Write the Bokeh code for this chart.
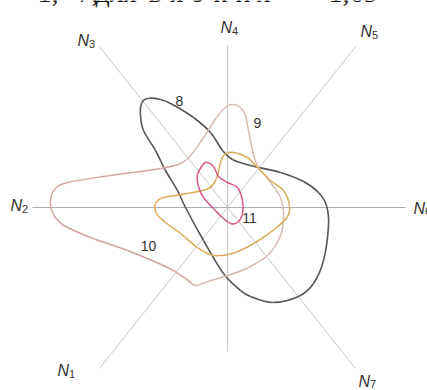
from bokeh.plotting import figure
from bokeh.models import Range1d
from bokeh.core.properties import value
from bokeh.embed import file_html
from bokeh.resources import INLINE

# Rays of the diagram (end points, centre at origin)
ray_x = [-128, -195, -129, 0, 129, 178, 128, 0]
ray_y = [-161, 0, 162, 162, 162, 0, -161, -144]

# Ray labels: left edge of the letter N and its vertical centre
label_x = [-170, -217, -150, -7, 133, 186, 131]
label_y = [-163, 2, 167, 180, 176, -0.5, -173.5]
label_sub = ["1", "2", "3", "4", "5", "6", "7"]

# Contour 8
c8_x = [-80, -67, -55, -34, -17, -5, 5, 23, 53, 76, 91, 99, 101, 96, 86, 71, 45,
        23, 13, -4, -24, -42, -50, -62, -72, -84, -87, -86]
c8_y = [109, 108, 103, 90, 75, 57, 48, 42, 35, 26, 15, 2, -18, -53, -76, -89, -95,
        -89, -83, -66, -33, 0, 17, 37, 57, 77, 92, 104]

# Contour 9 (upper arc) and contour 10 (left lobe) form one closed outline
c9_x = [-42, -24, -11, -1, 6, 13, 18, 21, 25, 30, 43, 53, 56, 53, 41, 21, 0, -20, -32]
c9_y = [47, 70, 90, 101, 103, 100, 92, 77, 57, 42, 25, 10, -8, -28, -47, -60, -68, -74, -78]
c10_x = [-42, -60, -100, -137, -165, -175, -177, -173, -160, -117, -67]
c10_y = [-71, -60, -43, -30, -17, -5, 7, 18, 25, 32, 39]

# Orange contour
co_x = [6, 20, 30, 43, 56, 62, 60, 48, 28, 8, -14, -30, -47, -62, -71, -72, -64,
        -40, -19, -11, -7, -3]
co_y = [55, 50, 40, 27, 17, 2, -9, -21, -35, -45, -48, -40, -26, -15, -6, 4, 10,
        14, 19, 29, 45, 53]

# Contour 11
c11_x = [-22, -14, -9, 0, 10, 15, 15, 10, 3, -5, -14, -24, -29, -30]
c11_y = [45, 41, 31, 25, 20, 7, -6, -15, -16, -10, -1, 10, 21, 33]

# Curve numbers
num_text = ["8", "9", "10", "11"]
num_x = [-48, 30, -79, 22]
num_y = [107, 85, -38, -10]

# Line of running text above the figure (spaced-out word set letter by letter)
top_words = ["=", "1,", "7,", "для", "в", "я", "з", "к", "и", "х", "=", "1,65", "="]
top_x = [-231, -190, -150, -132, -79, -57, -35, -14, 8, 29, 63, 101, 176]


def catmull_rom(xs, ys):
    """Bezier segments of a closed Catmull-Rom spline through the points."""
    n = len(xs)
    segs = []
    for i in range(n):
        p0 = (xs[i - 1], ys[i - 1])
        p1 = (xs[i], ys[i])
        p2 = (xs[(i + 1) % n], ys[(i + 1) % n])
        p3 = (xs[(i + 2) % n], ys[(i + 2) % n])
        c0 = (p1[0] + (p2[0] - p0[0]) / 6, p1[1] + (p2[1] - p0[1]) / 6)
        c1 = (p2[0] - (p3[0] - p1[0]) / 6, p2[1] - (p3[1] - p1[1]) / 6)
        segs.append((p1, p2, c0, c1))
    return segs


def draw_segs(p, segs, color, width=1.5):
    p.bezier(x0=[s[0][0] for s in segs], y0=[s[0][1] for s in segs],
             x1=[s[1][0] for s in segs], y1=[s[1][1] for s in segs],
             cx0=[s[2][0] for s in segs], cy0=[s[2][1] for s in segs],
             cx1=[s[3][0] for s in segs], cy1=[s[3][1] for s in segs],
             line_color=color, line_width=width)


p = figure(width=427, height=390, output_backend="svg", toolbar_location=None,
           x_range=Range1d(-227, 200), y_range=Range1d(-183, 207),
           min_border=0, outline_line_color=None, background_fill_color="white",
           border_fill_color="white")
p.axis.visible = False
p.grid.visible = False

# rays
for rx, ry in zip(ray_x, ray_y):
    col = "#a9aebb" if ry == 0 else "#c8c8c8"
    p.segment(x0=[0], y0=[0], x1=[rx], y1=[ry], line_color=col, line_width=1)

# contours
draw_segs(p, catmull_rom(c8_x, c8_y), "#555555", 1.6)
loop = catmull_rom(c9_x + c10_x, c9_y + c10_y)
draw_segs(p, loop[:len(c9_x) - 1], "#d6bcb0", 1.5)
draw_segs(p, loop[len(c9_x) - 1:], "#d2a59e", 1.5)
draw_segs(p, catmull_rom(co_x, co_y), "#dcaa58", 1.5)
draw_segs(p, catmull_rom(c11_x, c11_y), "#d6578c", 1.5)

# ray labels
p.text(x=label_x, y=label_y, text=["N"] * len(label_x), text_font=value("Liberation Sans"),
       text_font_style="italic", text_font_size="16px", text_color="#333333",
       text_baseline="middle", text_align="left")
p.text(x=[v + 11.5 for v in label_x], y=[v - 3 for v in label_y], text=label_sub,
       text_font=value("Liberation Sans"), text_font_size="11px", text_color="#333333",
       text_baseline="middle", text_align="left")

# curve numbers
p.text(x=num_x, y=num_y, text=num_text, text_font=value("Liberation Sans"),
       text_font_size="14px", text_color="#333333", text_baseline="middle",
       text_align="center")

# top running text, only its lower part falls inside the page
p.text(x=top_x, y=[215] * len(top_x), text=top_words, text_font=value("Liberation Serif"),
       text_font_size="28px", text_color="#111111", text_baseline="middle",
       text_align="left")

open("out.html", "w").write(file_html(p, INLINE))
